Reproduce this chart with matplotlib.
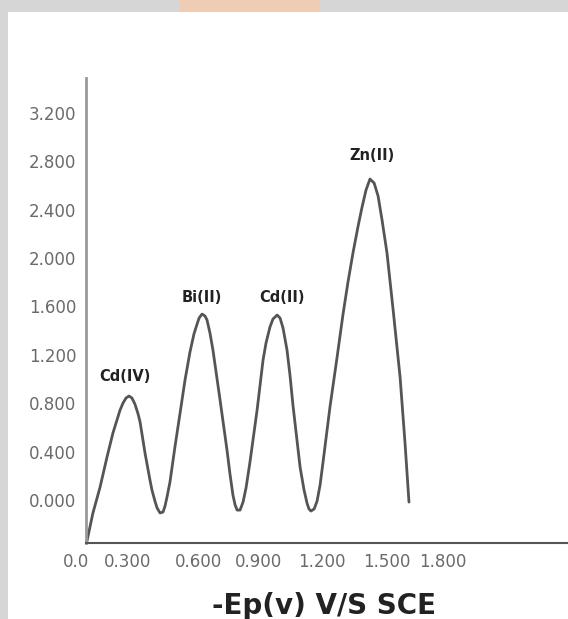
import matplotlib
matplotlib.use("Agg")
import matplotlib.pyplot as plt
from matplotlib.patches import Rectangle

# curve: potential (x) and current (y)
ep = [0.004, 0.035, 0.071, 0.106, 0.136, 0.172, 0.187, 0.202, 0.217, 0.232,
      0.247, 0.263, 0.273, 0.298, 0.323, 0.333, 0.348, 0.359, 0.374, 0.389,
      0.399, 0.409, 0.424, 0.449, 0.475, 0.500, 0.525, 0.545, 0.561, 0.571,
      0.586, 0.601, 0.611, 0.626, 0.641, 0.677, 0.712, 0.727, 0.742, 0.753,
      0.763, 0.778, 0.793, 0.808, 0.828, 0.864, 0.894, 0.909, 0.929, 0.944,
      0.965, 0.980, 0.995, 1.015, 1.030, 1.045, 1.081, 1.101, 1.116, 1.126,
      1.136, 1.152, 1.167, 1.182, 1.197, 1.232, 1.268, 1.298, 1.323, 1.348,
      1.374, 1.394, 1.414, 1.434, 1.455, 1.475, 1.495, 1.520, 1.551, 1.586,
      1.611, 1.631]
cur = [-0.345, -0.107, 0.107, 0.355, 0.554, 0.744, 0.802, 0.843, 0.860, 0.843,
       0.793, 0.711, 0.645, 0.388, 0.165, 0.083, -0.008, -0.066, -0.107, -0.099,
       -0.050, 0.025, 0.149, 0.438, 0.719, 0.992, 1.223, 1.372, 1.455, 1.504,
       1.537, 1.521, 1.488, 1.380, 1.240, 0.826, 0.413, 0.215, 0.041, -0.041,
       -0.083, -0.083, -0.017, 0.099, 0.314, 0.744, 1.157, 1.298, 1.430, 1.496,
       1.529, 1.504, 1.421, 1.240, 1.033, 0.785, 0.273, 0.083, -0.025, -0.074,
       -0.091, -0.074, -0.008, 0.124, 0.314, 0.769, 1.182, 1.537, 1.802, 2.041,
       2.264, 2.421, 2.562, 2.653, 2.620, 2.512, 2.314, 2.041, 1.570, 1.017,
       0.471, -0.017]

peak_names = ["Cd(IV)", "Bi(II)", "Cd(II)", "Zn(II)"]
peak_x = [0.197, 0.586, 0.990, 1.444]
peak_y = [1.017, 1.678, 1.678, 2.851]

ytick_vals = [0.0, 0.4, 0.8, 1.2, 1.6, 2.0, 2.4, 2.8, 3.2]
ytick_labels = ["0.000", "0.400", "0.800", "1.200", "1.600", "2.000", "2.400", "2.800", "3.200"]
xtick_vals = [-0.05, 0.21, 0.57, 0.87, 1.19, 1.52, 1.80]
xtick_labels = ["0.0", "0.300", "0.600", "0.900", "1.200", "1.500", "1.800"]

fig = plt.figure(figsize=(5.68, 6.19), dpi=100, facecolor="#d6d6d6")
# white card on the grey background
fig.patches.append(Rectangle((8/568, 0), 1, 1 - 12/619, transform=fig.transFigure,
                             facecolor="white", edgecolor="none", zorder=-2))
fig.patches.append(Rectangle((180/568, 1 - 12/619), 140/568, 12/619, transform=fig.transFigure,
                             facecolor="#eecdb4", edgecolor="none", zorder=-2))

ax = fig.add_axes([75/568, 76/619, 493/568, 465/619])
ax.set_zorder(2)
ax.set_facecolor("none")
ax.plot(ep, cur, color="#555555", lw=2.0, solid_capstyle="round", solid_joinstyle="round")

for n, x, y in zip(peak_names, peak_x, peak_y):
    ax.text(x, y, n, ha="center", va="center", fontsize=10.5, fontweight="bold", color="#222222")

ax.set_yticks(ytick_vals)
ax.set_yticklabels(ytick_labels)
ax.set_xticks(xtick_vals)
ax.set_xticklabels(xtick_labels)
ax.set_xlim(-0.0556, 2.434)
ax.set_ylim(-0.355, 3.488)
ax.tick_params(length=0, labelsize=12, labelcolor="#6a6a6a")
ax.tick_params(axis="y", pad=7)
ax.tick_params(axis="x", pad=7)

for s in ["top", "right"]:
    ax.spines[s].set_visible(False)
ax.spines["left"].set_position(("data", 0))
ax.spines["left"].set_color("#999999")
ax.spines["left"].set_linewidth(2)
ax.spines["bottom"].set_bounds(0, 2.434)
ax.spines["bottom"].set_color("#555555")
ax.spines["bottom"].set_linewidth(1.5)

fig.text(324/568, 1 - 606/619, "-Ep(v) V/S SCE", ha="center", va="center",
         fontsize=20, fontweight="bold", color="#222222", zorder=3)

fig.savefig("out.png", dpi=100, facecolor=fig.get_facecolor())
